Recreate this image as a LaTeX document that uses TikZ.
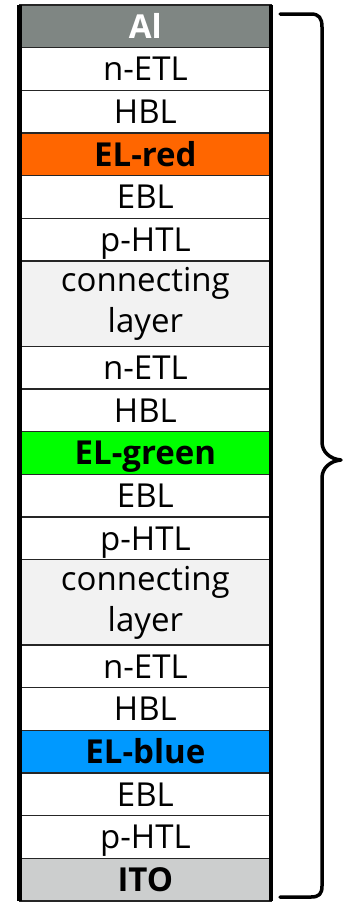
\documentclass[tikz,border=0pt]{standalone}
\usepackage{fontspec}
\setmainfont{Open Sans}
\usetikzlibrary{positioning}

\definecolor{algray}{RGB}{127,134,131}
\definecolor{itogray}{RGB}{204,206,206}
\definecolor{elred}{RGB}{255,102,0}
\definecolor{elgreen}{RGB}{0,255,0}
\definecolor{elblue}{RGB}{0,153,255}
\definecolor{connfill}{RGB}{242,242,242}

\begin{document}
\begin{tikzpicture}[x=1pt, y=1pt]
    \useasboundingbox (0,0) rectangle (343,-902);
    \tikzset{LayerStyle/.style={draw=black!85, line width=1.5pt, fill=white,
        minimum width=251.3pt, minimum height=42.67pt, inner sep=0pt, outer sep=0pt,
        font=\fontsize{33}{41}\selectfont, align=center, text height=23.6pt, text depth=0pt}}
    \tikzset{ConnStyle/.style={LayerStyle, fill=connfill, minimum height=85.33pt, text height=, text depth=}}
    \tikzset{BraceStyle/.style={line width=3.5pt, line cap=round, line join=round}}

    \node[LayerStyle, fill=algray, text=white, font=\fontsize{33}{41}\selectfont\bfseries] (Al) at (145.35,-26.33) {Al};
    \node[LayerStyle, below=0pt of Al] (nETLa) {n-ETL};
    \node[LayerStyle, below=0pt of nETLa] (HBLa) {HBL};
    \node[LayerStyle, fill=elred, font=\fontsize{33}{41}\selectfont\bfseries, below=0pt of HBLa] (ELred) {EL-red};
    \node[LayerStyle, below=0pt of ELred] (EBLa) {EBL};
    \node[LayerStyle, below=0pt of EBLa] (pHTLa) {p-HTL};
    \node[ConnStyle, below=0pt of pHTLa] (CLa) {connecting\\layer};
    \node[LayerStyle, below=0pt of CLa] (nETLb) {n-ETL};
    \node[LayerStyle, below=0pt of nETLb] (HBLb) {HBL};
    \node[LayerStyle, fill=elgreen, font=\fontsize{33}{41}\selectfont\bfseries, below=0pt of HBLb] (ELgreen) {EL-green};
    \node[LayerStyle, below=0pt of ELgreen] (EBLb) {EBL};
    \node[LayerStyle, below=0pt of EBLb] (pHTLb) {p-HTL};
    \node[ConnStyle, below=0pt of pHTLb] (CLb) {connecting\\layer};
    \node[LayerStyle, below=0pt of CLb] (nETLc) {n-ETL};
    \node[LayerStyle, below=0pt of nETLc] (HBLc) {HBL};
    \node[LayerStyle, fill=elblue, font=\fontsize{33}{41}\selectfont\bfseries, below=0pt of HBLc] (ELblue) {EL-blue};
    \node[LayerStyle, below=0pt of ELblue] (EBLc) {EBL};
    \node[LayerStyle, below=0pt of EBLc] (pHTLc) {p-HTL};
    \node[LayerStyle, fill=itogray, font=\fontsize{33}{41}\selectfont\bfseries, below=0pt of pHTLc] (ITO) {ITO};

    \draw[line width=4.5pt] (Al.north west) -- (ITO.south west);
    \draw[line width=4.5pt] (Al.north east) -- (ITO.south east);

    \draw[BraceStyle] (280,-14) -- (311,-14) .. controls (319,-14) and (322,-18) .. (322,-27)
        -- (322,-442) .. controls (322,-452) and (330,-459) .. (341,-460)
        .. controls (330,-461) and (322,-468) .. (322,-478)
        -- (322,-886) .. controls (322,-894) and (319,-897) .. (311,-897) -- (280,-897);
\end{tikzpicture}
\end{document}
